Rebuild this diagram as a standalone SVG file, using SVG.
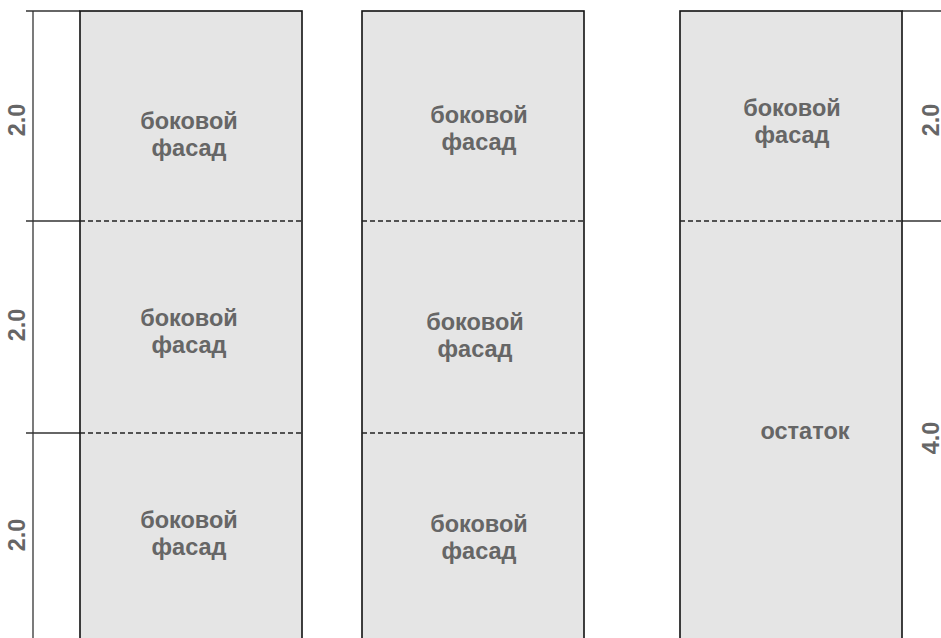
<svg xmlns="http://www.w3.org/2000/svg" width="941" height="638" viewBox="0 0 941 638">
<style>
.panel{fill:#e5e5e5;stroke:#111;stroke-width:1.6}
.cut{stroke:#222;stroke-width:1.3;stroke-dasharray:5,3;fill:none}
.dim{stroke:#333;stroke-width:1.3;fill:none}
.lbl{font-family:"Liberation Sans",Arial,sans-serif;font-weight:bold;font-size:23.5px;fill:#666;text-anchor:middle}
</style>
<rect width="941" height="638" fill="#fff"/>
<g id="dimensions">
<line class="dim" x1="33" y1="11" x2="33" y2="638"/>
<line class="dim" x1="26" y1="11" x2="80" y2="11"/>
<line class="dim" x1="26" y1="221" x2="80" y2="221"/>
<line class="dim" x1="26" y1="433" x2="80" y2="433"/>
<line class="dim" x1="902" y1="11" x2="941" y2="11"/>
<line class="dim" x1="902" y1="221" x2="941" y2="221"/>
<text class="lbl" transform="translate(25,120) rotate(-90)">2.0</text>
<text class="lbl" transform="translate(25,325) rotate(-90)">2.0</text>
<text class="lbl" transform="translate(25,535) rotate(-90)">2.0</text>
<text class="lbl" transform="translate(939,120) rotate(-90)">2.0</text>
<text class="lbl" transform="translate(939,438) rotate(-90)">4.0</text>
</g>
<g id="column1">
<rect class="panel" x="80" y="11" width="222" height="640"/>
<line class="cut" x1="80" y1="221" x2="302" y2="221"/>
<line class="cut" x1="80" y1="433" x2="302" y2="433"/>
<text class="lbl" x="189" y="129">боковой<tspan x="189" dy="27">фасад</tspan></text>
<text class="lbl" x="189" y="326">боковой<tspan x="189" dy="27">фасад</tspan></text>
<text class="lbl" x="189" y="528">боковой<tspan x="189" dy="27">фасад</tspan></text>
</g>
<g id="column2">
<rect class="panel" x="362" y="11" width="222" height="640"/>
<line class="cut" x1="362" y1="221" x2="584" y2="221"/>
<line class="cut" x1="362" y1="433" x2="584" y2="433"/>
<text class="lbl" x="479" y="123">боковой<tspan x="479" dy="27">фасад</tspan></text>
<text class="lbl" x="475" y="330">боковой<tspan x="475" dy="27">фасад</tspan></text>
<text class="lbl" x="479" y="532">боковой<tspan x="479" dy="27">фасад</tspan></text>
</g>
<g id="column3">
<rect class="panel" x="680" y="11" width="222" height="640"/>
<line class="cut" x1="680" y1="221" x2="902" y2="221"/>
<text class="lbl" x="792" y="116">боковой<tspan x="792" dy="27">фасад</tspan></text>
<text class="lbl" x="805" y="439">остаток</text>
</g>
</svg>
